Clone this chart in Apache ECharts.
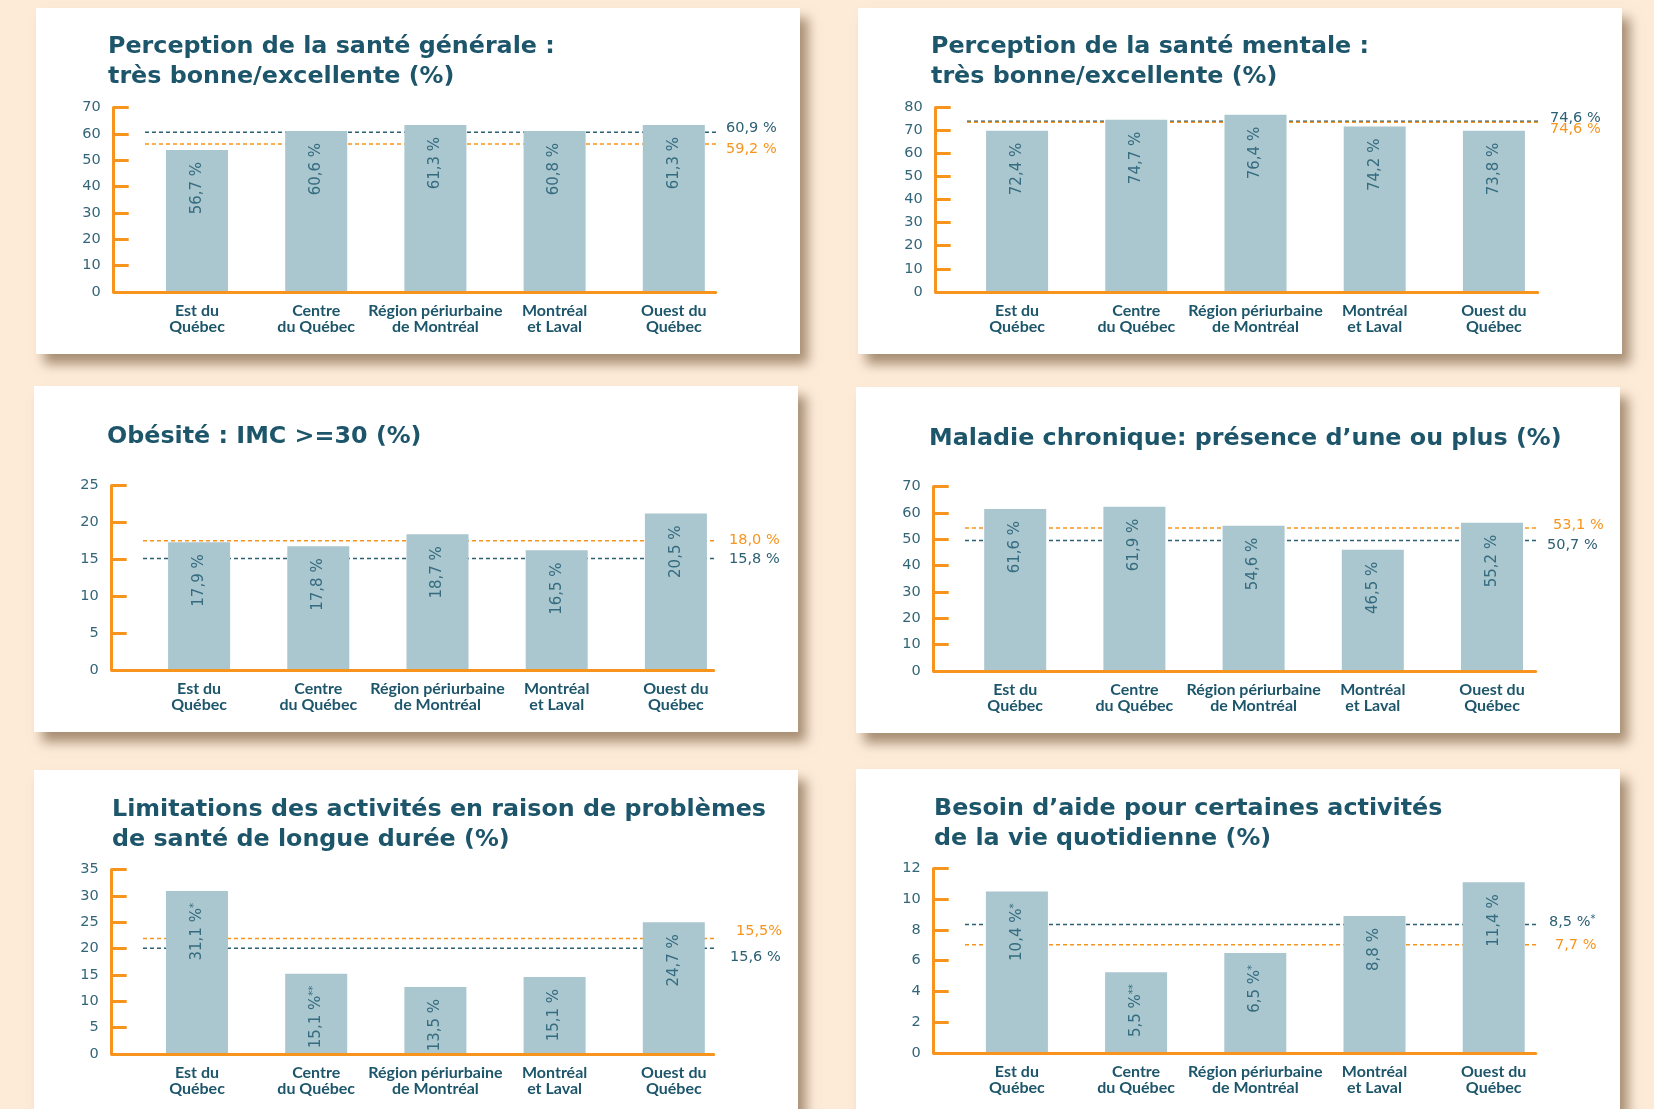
<!DOCTYPE html>
<html>
<head>
<meta charset="utf-8">
<script src="https://cdn.jsdelivr.net/npm/echarts@6/dist/echarts.min.js"></script>
<style>
html,body{margin:0;padding:0;background:#fdebd8;width:1654px;height:1109px;overflow:hidden}
.panel{position:absolute;background:#fff;box-shadow:8px 10px 11px rgba(110,80,50,0.6)}
#chart{position:absolute;left:0;top:0;width:1654px;height:1109px}
</style>
</head>
<body>
<div id="panels"></div>
<div id="chart"></div>
<script>
// ---------- DATA ----------
const categories = ['Est du\nQuébec', 'Centre\ndu Québec', 'Région périurbaine\nde Montréal', 'Montréal\net Laval', 'Ouest du\nQuébec'];

const titles = [
  'Perception de la santé générale :\ntrès bonne/excellente (%)',
  'Perception de la santé mentale :\ntrès bonne/excellente (%)',
  'Obésité : IMC >=30 (%)',
  'Maladie chronique: présence d’une ou plus (%)',
  'Limitations des activités en raison de problèmes\nde santé de longue durée (%)',
  'Besoin d’aide pour certaines activités\nde la vie quotidienne (%)'
];

const axisMax  = [70, 80, 25, 70, 35, 12];
const axisStep = [10, 10, 5, 10, 5, 2];

// bar heights as drawn, and the printed labels
const generaleValues = [53.9, 61.1, 63.4, 61.1, 63.4];
const generaleLabels = ['56,7 %', '60,6 %', '61,3 %', '60,8 %', '61,3 %'];
const mentaleValues  = [69.9, 74.7, 76.8, 71.7, 69.9];
const mentaleLabels  = ['72,4 %', '74,7 %', '76,4 %', '74,2 %', '73,8 %'];
const obesiteValues  = [17.3, 16.75, 18.4, 16.2, 21.2];
const obesiteLabels  = ['17,9 %', '17,8 %', '18,7 %', '16,5 %', '20,5 %'];
const chroniqueValues = [61.5, 62.3, 55.1, 46.0, 56.2];
const chroniqueLabels = ['61,6 %', '61,9 %', '54,6 %', '46,5 %', '55,2 %'];
const limitationsValues = [30.9, 15.2, 12.7, 14.6, 25.0];
const limitationsLabels = ['31,1 %*', '15,1 %**', '13,5 %', '15,1 %', '24,7 %'];
const aideValues = [10.5, 5.25, 6.5, 8.9, 11.1];
const aideLabels = ['10,4 %*', '5,5 %**', '6,5 %*', '8,8 %', '11,4 %'];

// reference lines: [navy, orange]
const generaleRef = [60.6, 56.1];     const generaleRefLabels = ['60,9 %', '59,2 %'];
const mentaleRef = [74.0, 73.6];      const mentaleRefLabels = ['74,6 %', '74,6 %'];
const obesiteRef = [15.1, 17.5];      const obesiteRefLabels = ['15,8 %', '18,0 %'];
const chroniqueRef = [49.5, 54.2];    const chroniqueRefLabels = ['50,7 %', '53,1 %'];
const limitationsRef = [20.05, 21.9]; const limitationsRefLabels = ['15,6 %', '15,5%'];
const aideRef = [8.36, 7.03];         const aideRefLabels = ['8,5 %*', '7,7 %'];

// ---------- STYLE / LAYOUT ----------
const ORANGE = '#f7941d', NAVY = '#2b5f74', BAR = '#aac6ce', TITLE = '#1d566b', NUM = '#336579', LBL = '#356c80';
const NUMFONT = 'DejaVu Sans';
const layout = [
  {pl: 36,  pt: 8,   ph: 346, barLeft: 137.4, tx: 108, ty: 32,  refOff: [[8, -4], [8, 5]]},
  {pl: 858, pt: 8,   ph: 346, barLeft: 957.5, tx: 931, ty: 32,  refOff: [[10, -3], [10, 7]]},
  {pl: 34,  pt: 386, ph: 346, barLeft: 139.5, tx: 107, ty: 422, refOff: [[13, 1], [13, -1]]},
  {pl: 856, pt: 387, ph: 346, barLeft: 955.6, tx: 929, ty: 424, refOff: [[9, 5], [15, -3]]},
  {pl: 34,  pt: 770, ph: 400, barLeft: 137.4, tx: 112, ty: 795, refOff: [[14, 9], [20, -7]]},
  {pl: 856, pt: 769, ph: 400, barLeft: 957.3, tx: 934, ty: 794, refOff: [[11, -2], [17, 0]]}
];
const panelWidth = 764, band = 119.2, plotH = 184.3;

const panelsData = [
  {values: generaleValues, labels: generaleLabels, ref: generaleRef, refLabels: generaleRefLabels},
  {values: mentaleValues, labels: mentaleLabels, ref: mentaleRef, refLabels: mentaleRefLabels},
  {values: obesiteValues, labels: obesiteLabels, ref: obesiteRef, refLabels: obesiteRefLabels},
  {values: chroniqueValues, labels: chroniqueLabels, ref: chroniqueRef, refLabels: chroniqueRefLabels},
  {values: limitationsValues, labels: limitationsLabels, ref: limitationsRef, refLabels: limitationsRefLabels},
  {values: aideValues, labels: aideLabels, ref: aideRef, refLabels: aideRefLabels}
];

// panel backgrounds
const pc = document.getElementById('panels');
layout.forEach(L => {
  const d = document.createElement('div');
  d.className = 'panel';
  d.style.left = L.pl + 'px'; d.style.top = L.pt + 'px';
  d.style.width = panelWidth + 'px'; d.style.height = L.ph + 'px';
  pc.appendChild(d);
});

function richText(t, cls) {
  const m = t.match(/^(.*?)(\**)$/);
  return m[2] ? '{' + cls + '|' + m[1] + '}{s|' + m[2] + '}' : '{' + cls + '|' + t + '}';
}

const grids = [], xAxes = [], yAxes = [], series = [], titleOpts = [];
panelsData.forEach((p, i) => {
  const L = layout[i];
  const top = L.pt + 99.5;
  const axisX = L.pl + 77.7;
  const max = axisMax[i], step = axisStep[i];

  titleOpts.push({
    text: titles[i], left: L.tx, top: L.ty, padding: 0,
    textStyle: {fontFamily: 'DejaVu Sans', fontWeight: 'bold', fontSize: 23.8, color: TITLE, lineHeight: 30}
  });

  // bars grid
  const gB = grids.length;
  grids.push({left: L.barLeft, top: top, width: band * 5, height: plotH});
  xAxes.push({
    gridIndex: gB, type: 'category', data: categories,
    axisLine: {show: false}, axisTick: {show: false},
    axisLabel: {fontFamily: 'Lato', fontWeight: 'bold', fontSize: 16, color: TITLE, lineHeight: 15.8, margin: 11, interval: 0}
  });
  yAxes.push({
    gridIndex: gB, type: 'value', min: 0, max: max, interval: step, offset: L.barLeft - axisX, z: 5,
    axisLine: {show: true, lineStyle: {color: ORANGE, width: 3}},
    axisTick: {show: true, inside: true, length: 15, lineStyle: {color: ORANGE, width: 3}},
    axisLabel: {fontFamily: NUMFONT, fontSize: 14.5, color: NUM, margin: 13},
    splitLine: {show: false}
  });
  series.push({
    type: 'bar', xAxisIndex: gB, yAxisIndex: gB, data: p.values, barWidth: 62, z: 3,
    itemStyle: {color: BAR},
    label: {
      show: true, position: 'insideTop', rotate: 90, align: 'right', verticalAlign: 'middle', distance: 12,
      formatter: (q) => richText(p.labels[q.dataIndex], 'a'),
      rich: {
        a: {fontFamily: NUMFONT, fontSize: 15, color: LBL},
        s: {fontFamily: NUMFONT, fontSize: 10, color: LBL, verticalAlign: 'top'}
      }
    }
  });

  // baseline grid (orange x-axis line from the y axis)
  const gA = grids.length;
  grids.push({left: axisX, top: top, width: 602, height: plotH});
  xAxes.push({
    gridIndex: gA, type: 'value', min: 0, max: 1, z: 6,
    axisLine: {show: true, onZero: false, lineStyle: {color: ORANGE, width: 3}},
    axisTick: {show: false}, axisLabel: {show: false}, splitLine: {show: false}
  });
  yAxes.push({gridIndex: gA, type: 'value', min: 0, max: max, show: false});

  // reference lines grid
  const gR = grids.length;
  grids.push({left: L.pl + 109, top: top, width: 573, height: plotH});
  xAxes.push({gridIndex: gR, type: 'value', min: 0, max: 1, show: false});
  yAxes.push({gridIndex: gR, type: 'value', min: 0, max: max, show: false});
  const refColors = [NAVY, ORANGE];
  p.ref.forEach((v, k) => {
    series.push({
      type: 'line', xAxisIndex: gR, yAxisIndex: gR, data: [[0, v], [1, v]],
      symbol: 'none', silent: true, z: 1,
      lineStyle: {color: refColors[k], width: 1.5, type: [4, 3]},
      endLabel: {
        show: true, formatter: () => richText(p.refLabels[k], 'r'), distance: 0, offset: L.refOff[k],
        rich: {
          r: {fontFamily: NUMFONT, fontSize: 14.5, color: refColors[k]},
          s: {fontFamily: NUMFONT, fontSize: 10, color: refColors[k], verticalAlign: 'top'}
        }
      }
    });
  });
});

const chart = echarts.init(document.getElementById('chart'), null, {renderer: 'canvas'});
chart.setOption({
  animation: false,
  backgroundColor: 'transparent',
  title: titleOpts,
  grid: grids,
  xAxis: xAxes,
  yAxis: yAxes,
  series: series
});
</script>
</body>
</html>
